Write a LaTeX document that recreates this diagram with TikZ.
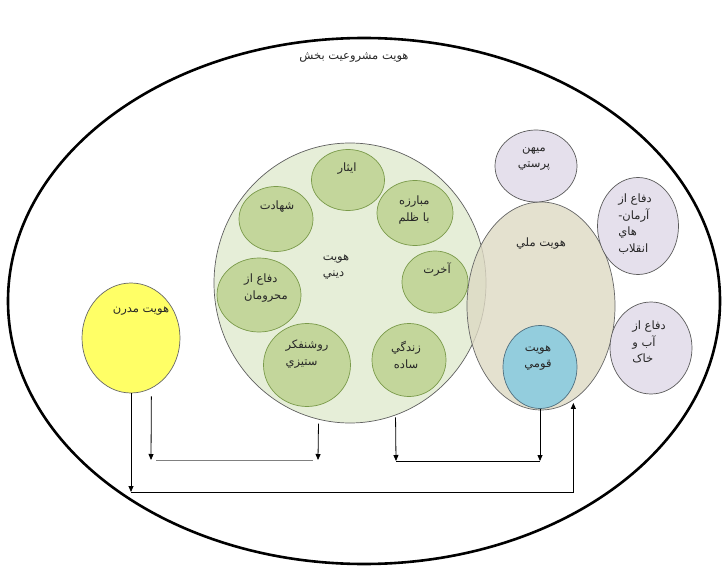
\documentclass[tikz,border=0pt]{standalone}
\usepackage{fontspec}
\newfontfamily\arabicfont[Script=Arabic]{DejaVu Sans}
\TeXXeTstate=1
\usetikzlibrary{shapes.geometric,arrows.meta,calc}
\definecolor{dinfill}{HTML}{E6EED8}
\definecolor{dinline}{HTML}{5F5F5F}
\definecolor{smallgreen}{HTML}{C3D69B}
\definecolor{smallline}{HTML}{7A9A4A}
\definecolor{mellifill}{HTML}{DDD9C3}
\definecolor{melliline}{HTML}{666666}
\definecolor{qawmfill}{HTML}{93CDDD}
\definecolor{qawmline}{HTML}{4F6F7F}
\definecolor{lavfill}{HTML}{E5E0EC}
\definecolor{lavline}{HTML}{5A5A5A}
\definecolor{modfill}{HTML}{FFFF66}
\newcommand{\fa}[1]{{\arabicfont\beginR #1\endR}}

\begin{document}
\begin{tikzpicture}[
  x=1pt, y=-1pt,
  circ/.style={ellipse, draw, inner sep=0pt, line width=0.7pt},
  small/.style={circ, fill=smallgreen, draw=smallline},
  side/.style={circ, fill=lavfill, draw=lavline},
  txt/.style={font=\fontsize{11.5}{16.5}\selectfont, inner sep=0pt, text=black!85},
  arr/.style={-{Triangle[length=6pt,width=5pt]}, line width=0.8pt}
]
  \useasboundingbox (0,0) rectangle (723,567);
  % outer frame
  \node[circ, draw=black, line width=2.6pt, minimum width=712, minimum height=526] (legit) at (364,301) {};
  \node[txt] (t-legit) at (354,58) {\fa{هويت مشروعيت بخش}};
  % religious identity
  \node[circ, fill=dinfill, draw=dinline, minimum width=272, minimum height=280] (deen) at (350,283) {};
  \node[small, minimum width=73, minimum height=61] (isar) at (348,180) {};
  \node[small, minimum width=76, minimum height=65] (mobareze) at (415,213) {};
  \node[small, minimum width=74, minimum height=65] (shahadat) at (276,219) {};
  \node[small, minimum width=66, minimum height=62] (akherat) at (435,282) {};
  \node[small, minimum width=84, minimum height=74] (mahrum) at (259,295) {};
  \node[small, minimum width=87, minimum height=83] (roshan) at (307,365) {};
  \node[small, minimum width=74, minimum height=73] (zendegi) at (409,360) {};
  \node[txt, align=left] (t-deen) at (336,267) {\fa{هويت}\\\fa{ديني}};
  \node[txt] (t-isar) at (347,169) {\fa{ايثار}};
  \node[txt, align=right] (t-mobareze) at (414,210) {\fa{مبارزه}\\\fa{با ظلم}};
  \node[txt] (t-shahadat) at (277,207) {\fa{شهادت}};
  \node[txt] (t-akherat) at (437,270) {\fa{آخرت}};
  \node[txt, align=left] (t-mahrum) at (266,288) {\fa{دفاع از}\\\fa{محرومان}};
  \node[txt, align=left] (t-roshan) at (307,354) {\fa{روشنفکر}\\\fa{ستيزي}};
  \node[txt, align=center] (t-zendegi) at (406,355) {\fa{زندگي}\\\fa{ساده}};
  % national identity
  \node[circ, fill=mellifill, draw=melliline, fill opacity=0.8, minimum width=148, minimum height=208] (melli) at (541,306) {};
  \node[circ, fill=qawmfill, draw=qawmline, minimum width=74, minimum height=83] (qawmi) at (540,367) {};
  \node[txt] (t-melli) at (541,244) {\fa{هويت ملي}};
  \node[txt, align=center] (t-qawmi) at (538,358) {\fa{هويت}\\\fa{قومي}};
  \node[side, minimum width=82, minimum height=72] (mihan) at (536,166) {};
  \node[side, minimum width=81, minimum height=97] (arman) at (638,226) {};
  \node[side, minimum width=82, minimum height=92] (abkhak) at (651,348) {};
  \node[txt, align=center] (t-mihan) at (534,159) {\fa{ميهن}\\\fa{پرستي}};
  \node[txt, align=left] (t-arman) at (635,224) {\fa{دفاع از}\\\fa{آرمان-}\\\fa{هاي}\\\fa{انقلاب}};
  \node[txt, align=left] (t-abkhak) at (649,342) {\fa{دفاع از}\\\fa{آب و}\\\fa{خاک}};
  % modern identity
  \node[circ, fill=modfill, draw=melliline, minimum width=98, minimum height=110] (modern) at (131,338) {};
  \node[txt] (t-modern) at (141,311) {\fa{هويت مدرن}};
  % connectors
  \coordinate (jm) at (131,492);
  \coordinate (jd1) at (151,460);
  \coordinate (jd2) at (318,460);
  \coordinate (jq1) at (396,461);
  \coordinate (jq2) at (540,461);
  \draw[arr] (modern.south) -- (jm);
  \draw[arr] (jm) -| ([yshift=-3pt]melli.-71);
  \draw[arr] ([yshift=-8pt]modern.-68) -- (jd1);
  \draw[gray, line width=0.8pt] ([xshift=5pt]jd1) -- ([xshift=-5pt]jd2);
  \draw[arr] ([yshift=-4pt]deen.-103) -- (jd2);
  \draw[arr] ([yshift=-2pt]deen.-71) -- (jq1);
  \draw[line width=0.8pt] (jq1) -- (jq2);
  \draw[arr] (qawmi.south) -- (jq2);
\end{tikzpicture}
\end{document}
